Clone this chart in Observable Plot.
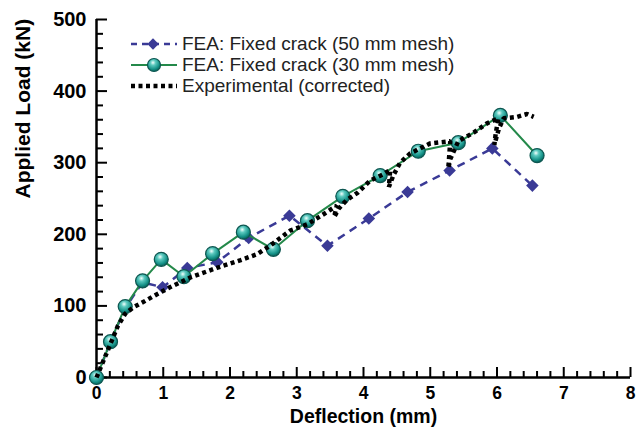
<!DOCTYPE html>
<html>
<head>
<meta charset="utf-8">
<script src="https://cdn.jsdelivr.net/npm/d3@7"></script>
<script src="https://cdn.jsdelivr.net/npm/@observablehq/plot@0.6"></script>
<style>
  html, body { margin: 0; padding: 0; background: #fff; }
  #wrap { position: relative; width: 638px; height: 434px; font-family: "Liberation Sans", Arial, sans-serif; }
  #legend { position: absolute; left: 129px; top: 33px; font-size: 19px; color: #222; line-height: 21px; }
  #legend .row { display: flex; align-items: center; height: 21px; }
  #legend svg { width: 50px; height: 21px; margin-right: 3px; }
</style>
</head>
<body>
<div id="wrap"><div id="legend"></div></div>
<script>
// ---- data ----
const fea50X = [0, 0.21, 0.43, 0.69, 0.99, 1.36, 1.81, 2.28, 2.89, 3.46, 4.08, 4.66, 5.29, 5.93, 6.53];
const fea50Y = [0, 50, 97, 133, 126, 153, 161, 195, 226, 184, 222, 259, 289, 320, 268];

const fea30X = [0, 0.21, 0.43, 0.69, 0.97, 1.31, 1.74, 2.2, 2.65, 3.16, 3.69, 4.25, 4.82, 5.42, 6.05, 6.6];
const fea30Y = [0, 50, 99, 135, 165, 141, 173, 203, 179, 219, 253, 282, 316, 328, 366, 310];

const expX = [0, 0.08, 0.2, 0.32, 0.43, 0.55, 0.73, 0.9, 1.1, 1.41, 1.8, 2.16, 2.4, 2.6, 2.9, 3.16, 3.4, 3.6, 3.56, 3.63, 3.75, 3.91, 4.1, 4.3, 4.4, 4.38, 4.45, 4.55, 4.7, 5.0, 5.3, 5.27, 5.3, 5.42, 5.65, 5.85, 6.02, 5.98, 5.96, 6.03, 6.1, 6.3, 6.45, 6.55];
const expY = [0, 18, 45, 72, 89, 98, 107, 116, 126, 140, 153, 164, 172, 184, 205, 214, 228, 240, 224, 236, 248, 258, 275, 284, 290, 266, 283, 300, 313, 327, 330, 292, 305, 330, 342, 355, 362, 340, 325, 348, 362, 364, 368, 364];

const xTicks = [0, 1, 2, 3, 4, 5, 6, 7, 8];
const yTicks = [0, 100, 200, 300, 400, 500];
const xMinor = d3.range(0, 8.0001, 0.2).filter(v => Math.abs(v - Math.round(v)) > 1e-6);
const yMinor = d3.range(0, 500.001, 20).filter(v => v % 100 !== 0);

const seriesNames = ["FEA: Fixed crack (50 mm mesh)", "FEA: Fixed crack (30 mm mesh)", "Experimental (corrected)"];
const xLabel = "Deflection (mm)";
const yLabel = "Applied Load (kN)";

// ---- build tables ----
const fea50 = fea50X.map((x, i) => ({x, y: fea50Y[i]}));
const fea30 = fea30X.map((x, i) => ({x, y: fea30Y[i]}));
const expt = expX.map((x, i) => ({x, y: expY[i]}));

const W = 638, H = 434, mL = 96, mR = 8, mT = 19, mB = 57;
const pw = W - mL - mR, ph = H - mT - mB;

const blue = "#3a3a96";
const green = "#24894a";
const font = "Liberation Sans, Arial, sans-serif";

const chart = Plot.plot({
  width: W, height: H,
  marginLeft: mL, marginRight: mR, marginTop: mT, marginBottom: mB,
  style: {fontFamily: font, background: "#fff", color: "#000"},
  x: {domain: [0, 8], label: null},
  y: {domain: [0, 500], label: null},
  marks: [
    // axis tick labels
    Plot.axisX({ticks: xTicks, tickSize: 0, tickPadding: 9, fontSize: 17.5, fontWeight: "bold", label: null}),
    Plot.axisY({ticks: yTicks, tickSize: 0, tickPadding: 10, fontSize: 20, fontWeight: "bold", label: null}),
    // axis titles
    Plot.text([xLabel], {frameAnchor: "bottom", text: d => d, dy: 45, fontSize: 19.5, fontWeight: "bold", fill: "#000"}),
    Plot.text([yLabel], {frameAnchor: "left", text: d => d, rotate: -90, dx: -73, fontSize: 21, fontWeight: "bold", fill: "#000"}),
    // inward ticks
    Plot.ruleX(xMinor, {x: d => d, insetTop: ph - 6, stroke: "#000", strokeWidth: 2}),
    Plot.ruleX(xTicks, {x: d => d, insetTop: ph - 10, stroke: "#000", strokeWidth: 2}),
    Plot.ruleY(yMinor, {y: d => d, insetRight: pw - 7, stroke: "#000", strokeWidth: 2}),
    Plot.ruleY(yTicks, {y: d => d, insetRight: pw - 11, stroke: "#000", strokeWidth: 2}),
    // axis lines
    Plot.ruleX([0], {stroke: "#000", strokeWidth: 2.5}),
    Plot.ruleY([0], {stroke: "#000", strokeWidth: 2.5}),
    // FEA 50 mm
    Plot.line(fea50, {x: "x", y: "y", stroke: blue, strokeWidth: 2.5, strokeDasharray: "8,6", strokeLinecap: "butt"}),
    Plot.dot(fea50, {x: "x", y: "y", symbol: "square", rotate: 45, r: 5, fill: blue, stroke: "none"}),
    // FEA 30 mm
    Plot.line(fea30, {x: "x", y: "y", stroke: green, strokeWidth: 2}),
    Plot.dot(fea30, {x: "x", y: "y", r: 7, fill: "url(#ball)", stroke: "#0d5650", strokeWidth: 1.2}),
    // experimental
    Plot.line(expt, {x: "x", y: "y", stroke: "#000", strokeWidth: 4.5, strokeDasharray: "4,3.5", strokeLinecap: "butt", strokeLinejoin: "miter"})
  ]
});

const defs = document.createElementNS("http://www.w3.org/2000/svg", "defs");
defs.innerHTML = `<radialGradient id="ball" cx="42%" cy="32%" r="68%">
  <stop offset="0" stop-color="#f2fffd"/>
  <stop offset="0.3" stop-color="#5cc9bf"/>
  <stop offset="0.75" stop-color="#139086"/>
  <stop offset="1" stop-color="#0a5f58"/>
</radialGradient>`;
chart.prepend(defs);

const wrap = document.getElementById("wrap");
wrap.insertBefore(chart, wrap.firstChild);

// ---- legend ----
const legend = document.getElementById("legend");
const swatches = [
  `<line x1="2" x2="48" y1="11" y2="11" stroke="${blue}" stroke-width="2.5" stroke-dasharray="6,5"/><rect x="20" y="7" width="8" height="8" fill="${blue}" transform="rotate(45 24 11)"/>`,
  `<line x1="2" x2="48" y1="11" y2="11" stroke="${green}" stroke-width="2"/><circle cx="25" cy="11" r="6.5" fill="url(#ball)" stroke="#0d5650" stroke-width="1.2"/>`,
  `<line x1="2" x2="48" y1="11" y2="11" stroke="#000" stroke-width="4.5" stroke-dasharray="4,3.5"/>`
];
seriesNames.forEach((name, i) => {
  const row = document.createElement("div");
  row.className = "row";
  row.innerHTML = `<svg viewBox="0 0 50 21">${swatches[i]}</svg><span>${name}</span>`;
  legend.appendChild(row);
});
</script>
</body>
</html>
